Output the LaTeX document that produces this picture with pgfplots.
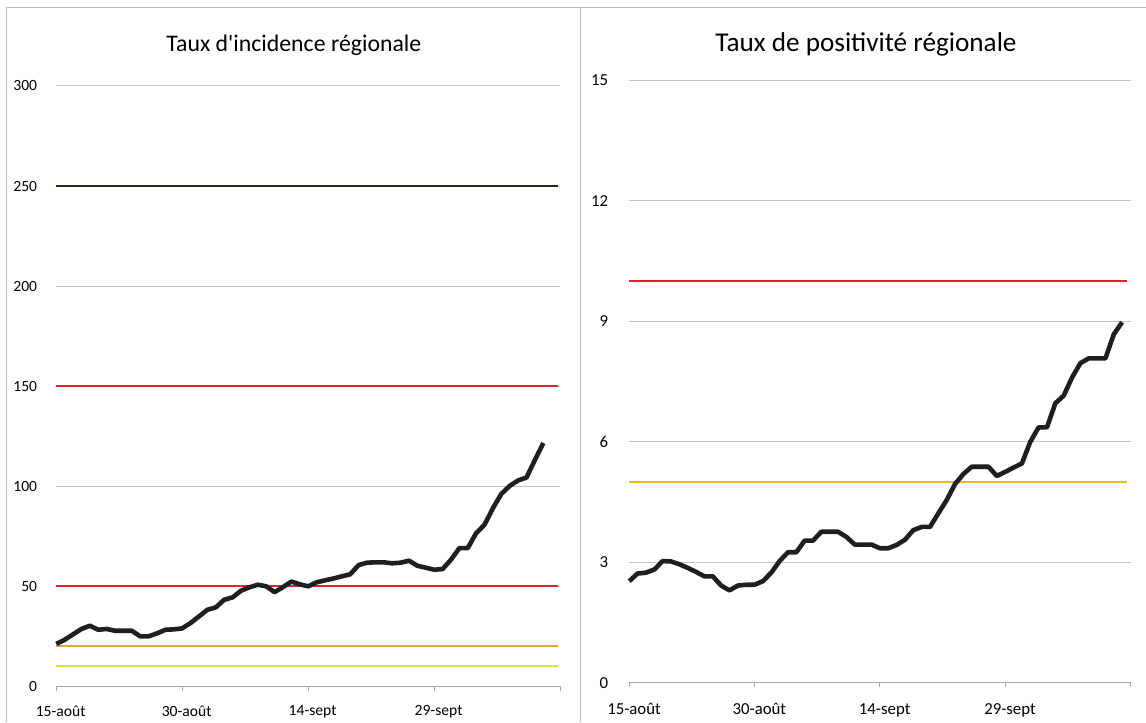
\documentclass[border=0pt]{standalone}
\usepackage{pgfplots}
\pgfplotsset{compat=1.18}
\usepackage{pgfplotstable}
\usepackage{fontspec}
\setmainfont{Carlito}
\definecolor{rouge}{HTML}{E3232B}
\definecolor{orangeL}{HTML}{E6A43A}
\definecolor{jauneL}{HTML}{E0E23A}
\definecolor{jauneR}{HTML}{E8BE1E}
\definecolor{noirL}{HTML}{2C2814}
\definecolor{grille}{HTML}{C4C4C4}
\definecolor{axe}{HTML}{A8A8A8}

\pgfplotstableread{
d v
0 21.2
1 23.3
2 26
3 28.7
4 30.3
5 28.3
6 28.7
7 27.8
8 27.8
9 27.8
10 25
11 25
12 26.5
13 28.3
14 28.5
15 29
16 31.7
17 35
18 38.3
19 39.5
20 43.3
21 44.5
22 47.8
23 49.5
24 50.8
25 50
26 47.1
27 49.6
28 52.4
29 51
30 50
31 52
32 53
33 53.9
34 55
35 56
36 60.6
37 61.8
38 62
39 62
40 61.5
41 61.8
42 62.8
43 60.3
44 59.3
45 58.3
46 58.6
47 63.3
48 69.1
49 69.1
50 76.6
51 80.8
52 89.1
53 96.2
54 100.2
55 102.9
56 104.4
57 113.2
58 121.6
}\incidence

\pgfplotstableread{
d v
0 2.53
1 2.72
2 2.74
3 2.82
4 3.03
5 3.02
6 2.95
7 2.86
8 2.76
9 2.65
10 2.65
11 2.42
12 2.30
13 2.42
14 2.44
15 2.44
16 2.53
17 2.74
18 3.03
19 3.25
20 3.25
21 3.54
22 3.54
23 3.76
24 3.76
25 3.76
26 3.63
27 3.44
28 3.44
29 3.44
30 3.35
31 3.35
32 3.43
33 3.56
34 3.80
35 3.88
36 3.88
37 4.22
38 4.55
39 4.95
40 5.20
41 5.38
42 5.38
43 5.38
44 5.15
45 5.25
46 5.36
47 5.46
48 6.00
49 6.36
50 6.36
51 6.96
52 7.15
53 7.60
54 7.96
55 8.08
56 8.08
57 8.08
58 8.68
59 8.98
}\positivite

\pgfplotsset{
  chartstyle/.style={
    scale only axis,
    xmin=0, xmax=60, ymin=0,
    xtick={0,15,30,45,60},
    xticklabels={15-août,30-août,14-sept,29-sept,{}},
    ymajorgrids, grid style={grille, line width=0.5pt},
    axis x line*=bottom, axis y line*=left,
    y axis line style={draw=none},
    x axis line style={axe, line width=0.6pt},
    xtick style={axe, line width=0.6pt},
    ytick style={draw=none},
    tick align=outside, major tick length=2.2pt,
    /pgf/number format/assume math mode=true,
    clip=false,
  }
}

\begin{document}
\begin{tikzpicture}
\fill[white] (0,0) rectangle (573pt,361pt);
\draw[gray!55, line width=0.5pt] (3.35pt,0) -- (3.35pt,357pt) -- (573pt,357pt);
\draw[gray!55, line width=0.6pt] (290.35pt,0) -- (290.35pt,357pt);

\node[font=\fontsize{11.9}{14}\selectfont] at (147pt,338.5pt) {Taux d\textquotesingle incidence régionale};
\node[font=\fontsize{13.6}{16}\selectfont] at (433.2pt,339pt) {Taux de positivité régionale};

\begin{axis}[chartstyle,
  at={(28.15pt,17.65pt)}, anchor=south west,
  width=252.05pt, height=300.35pt,
  ymax=300, ytick={0,50,...,300},
  ticklabel style={font=\fontsize{7.8}{9}\selectfont},
  yticklabel style={inner sep=0pt, anchor=east, xshift=-7.2pt},
  xticklabel style={inner sep=0pt, anchor=north, yshift=-7.2pt, xshift=2.2pt},
]
\addplot[noirL, line width=1pt] coordinates {(0,250) (59.7,250)};
\addplot[rouge, line width=1pt] coordinates {(0,150) (59.7,150)};
\addplot[rouge, line width=1pt] coordinates {(0,50) (59.7,50)};
\addplot[orangeL, line width=1pt] coordinates {(0,20) (59.7,20)};
\addplot[jauneL, line width=1pt] coordinates {(0,10) (59.7,10)};
\addplot[black!88, line width=2.3pt, line join=round] table[x=d, y=v] {\incidence};
\end{axis}

\begin{axis}[chartstyle,
  at={(314.75pt,19.5pt)}, anchor=south west,
  width=250.75pt, height=301.2pt,
  ymax=15, ytick={0,3,...,15},
  ticklabel style={font=\fontsize{8.4}{10}\selectfont},
  yticklabel style={inner sep=0pt, anchor=east, xshift=-8.1pt},
  xticklabel style={inner sep=0pt, anchor=north, yshift=-8pt, xshift=2.4pt},
]
\addplot[rouge, line width=1pt] coordinates {(0,10) (59.6,10)};
\addplot[jauneR, line width=1pt] coordinates {(0,5) (59.6,5)};
\addplot[black!88, line width=2.3pt, line join=round] table[x=d, y=v] {\positivite};
\end{axis}
\end{tikzpicture}
\end{document}
